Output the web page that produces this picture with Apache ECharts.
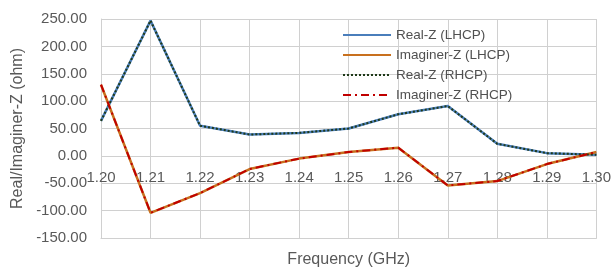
<!DOCTYPE html>
<html>
<head>
<meta charset="utf-8">
<script src="https://cdn.jsdelivr.net/npm/echarts@6/dist/echarts.min.js"></script>
<style>
  html, body { margin: 0; padding: 0; background: #fff; }
  #chart { width: 614px; height: 273px; }
</style>
</head>
<body>
<div id="chart"></div>
<script>
  // frequency points (GHz)
  var freqs = ['1.20', '1.21', '1.22', '1.23', '1.24', '1.25', '1.26', '1.27', '1.28', '1.29', '1.30'];
  // impedance values (ohm)
  var realLHCP = [64, 247, 55, 39, 42, 50, 76, 91, 22, 5, 2];
  var imagLHCP = [130, -104, -68, -24, -5, 7, 15, -54, -46, -15, 7];
  var realRHCP = [64, 247, 55, 39, 42, 50, 76, 91, 22, 5, 2];
  var imagRHCP = [130, -104, -68, -24, -5, 7, 15, -54, -46, -15, 7];

  var font = 'Liberation Sans';
  var txt = '#595959';
  var gridColor = '#d0d0d0';

  var myChart = echarts.init(document.getElementById('chart'));
  var option = {
    animation: false,
    grid: { left: 101, right: 14, top: 19, bottom: 29, containLabel: false },
    legend: {
      orient: 'vertical',
      left: 337,
      top: 23,
      itemWidth: 48,
      itemHeight: 14,
      itemGap: 6,
      itemStyle: { opacity: 0 },
      textStyle: { fontFamily: font, fontSize: 13.5, color: '#505050' },
      data: ['Real-Z (LHCP)', 'Imaginer-Z (LHCP)', 'Real-Z (RHCP)', 'Imaginer-Z (RHCP)']
    },
    xAxis: [
      {
        // main axis: gridlines + name at the bottom
        type: 'category',
        data: freqs,
        boundaryGap: false,
        name: 'Frequency (GHz)',
        nameLocation: 'middle',
        nameGap: 14,
        nameTextStyle: { fontFamily: font, fontSize: 16, color: txt },
        axisLine: { onZero: false, lineStyle: { color: gridColor } },
        axisTick: { show: false },
        axisLabel: { show: false },
        splitLine: { show: true, lineStyle: { color: gridColor, width: 1 } }
      },
      {
        // tick labels sitting on the zero line (Excel style)
        type: 'category',
        data: freqs,
        boundaryGap: false,
        position: 'bottom',
        offset: -84,
        axisLine: { show: false, onZero: false },
        axisTick: { show: false },
        axisLabel: { fontFamily: font, fontSize: 15, color: txt, margin: 16 },
        splitLine: { show: false }
      }
    ],
    yAxis: {
      type: 'value',
      min: -150,
      max: 250,
      interval: 50,
      name: 'Real/Imaginer-Z (ohm)',
      nameLocation: 'middle',
      nameGap: 73,
      nameTextStyle: { fontFamily: font, fontSize: 16, color: txt },
      axisLine: { show: true, onZero: false, lineStyle: { color: gridColor } },
      axisTick: { show: false },
      axisLabel: {
        fontFamily: font, fontSize: 15, color: txt, margin: 14,
        formatter: function (v) { return v.toFixed(2); }
      },
      splitLine: { show: true, lineStyle: { color: gridColor, width: 1 } }
    },
    series: [
      {
        name: 'Real-Z (LHCP)', type: 'line', data: realLHCP, symbol: 'none',
        color: '#4a7ebb', lineStyle: { width: 2.5, color: '#4a7ebb' }
      },
      {
        name: 'Imaginer-Z (LHCP)', type: 'line', data: imagLHCP, symbol: 'none',
        color: '#c8701e', lineStyle: { width: 2.5, color: '#c8701e' }
      },
      {
        name: 'Real-Z (RHCP)', type: 'line', data: realRHCP, symbol: 'none',
        color: '#2b4a1e', lineStyle: { width: 2, color: '#1f3a18', type: [2, 2] }
      },
      {
        name: 'Imaginer-Z (RHCP)', type: 'line', data: imagRHCP, symbol: 'none',
        color: '#c00000', lineStyle: { width: 2, color: '#c00000', type: [8, 4, 2, 4] }
      }
    ]
  };
  myChart.setOption(option);
</script>
</body>
</html>
